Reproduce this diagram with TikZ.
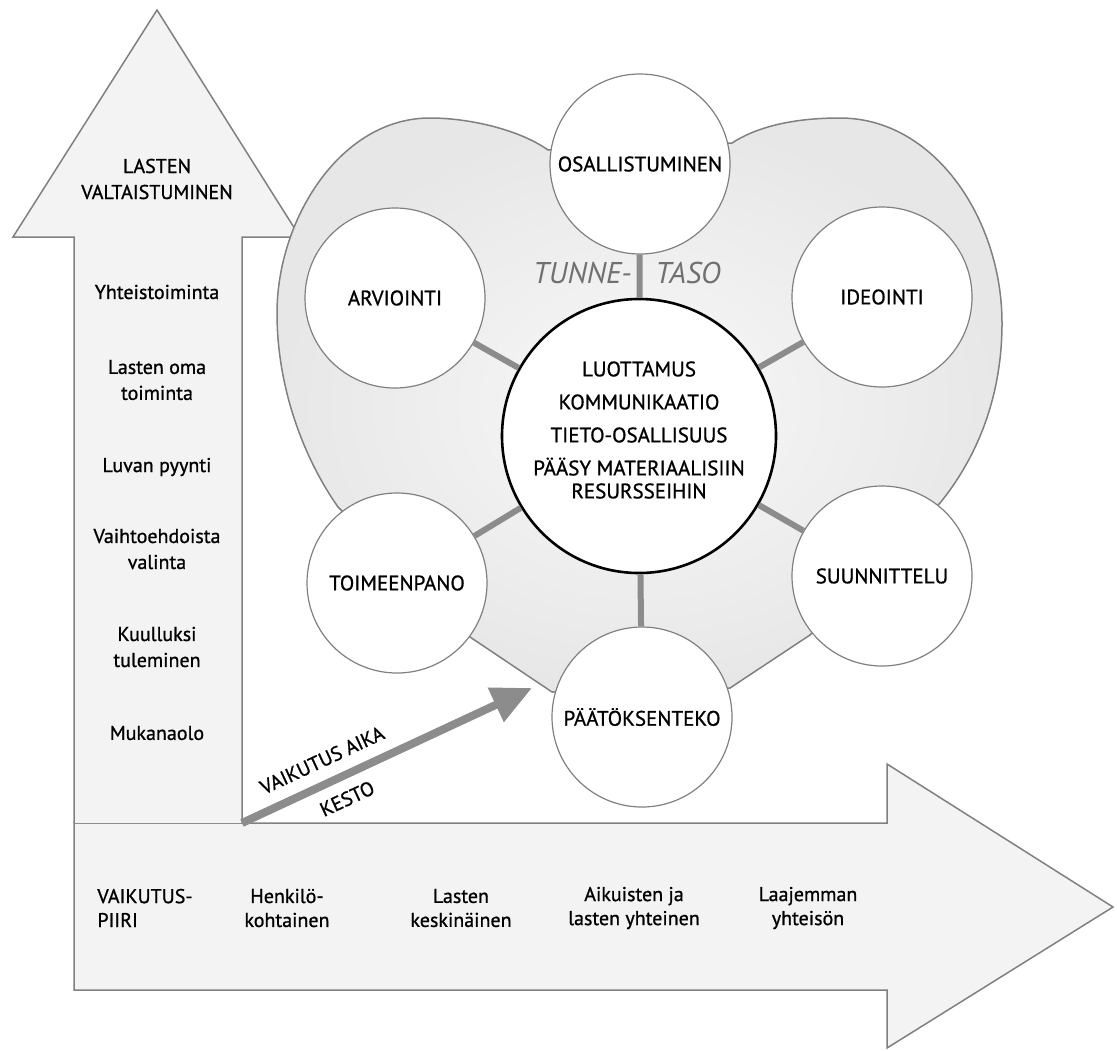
\documentclass[tikz,border=0pt]{standalone}
\usepackage{fontspec}
\setmainfont{PT Sans}[FakeBold=0.9]
\newfontfamily\tunnefont{PT Sans}
\usetikzlibrary{arrows.meta}
\definecolor{arrowfill}{HTML}{F3F3F3}
\definecolor{edge}{HTML}{808080}
\definecolor{linkc}{HTML}{8C8C8C}
\definecolor{heartin}{HTML}{F8F8F8}
\definecolor{heartout}{HTML}{E7E7E7}
\definecolor{tunnec}{HTML}{707070}
\begin{document}
\begin{tikzpicture}[x=0.5pt,y=-0.5pt,
  outer/.style={circle,draw=edge,fill=white,line width=0.6pt,minimum size=90pt,inner sep=0pt,
    font=\fontsize{10.5}{12}\selectfont},
  core/.style={circle,draw=black,fill=white,line width=1.3pt,minimum size=137pt,inner sep=0pt},
  link/.style={draw=linkc,line width=3pt},
  bigarrow/.style={fill=arrowfill,draw=edge,line width=0.75pt,line join=miter},
  lbl/.style={align=center,inner sep=0pt,font=\fontsize{10}{13}\selectfont},
  botlbl/.style={align=center,inner sep=0pt,font=\fontsize{10}{12}\selectfont},
  tunnelbl/.style={inner sep=0pt,text=tunnec,font=\tunnefont\fontsize{15}{15}\selectfont\itshape},
  diaglbl/.style={inner sep=0pt,sloped,font=\fontsize{10}{10}\selectfont}
]
\useasboundingbox (0,0) rectangle (1117,1050);

% horizontal arrow
\draw[bigarrow] (74,823) -- (887,823) -- (887,764) -- (1113,907) -- (887,1048)
  -- (887,990) -- (74,990) -- cycle;
% vertical arrow
\draw[bigarrow] (74,823) -- (74,237) -- (13,237) -- (157,10) -- (300,237)
  -- (242,237) -- (242,823);

% heart
\shadedraw[draw=edge,line width=0.75pt,inner color=heartin,outer color=heartout]
  (548,150) .. controls (520,130) and (470,118) .. (430,118)
  .. controls (340,118) and (277,220) .. (277,313)
  .. controls (277,390) and (305,460) .. (338,507)
  -- (470,637) -- (552,692) -- (730,688) -- (810,635) -- (940,503)
  .. controls (975,460) and (1002,400) .. (1002,323)
  .. controls (1002,220) and (935,118) .. (840,118)
  .. controls (790,118) and (755,128) .. (732,143) -- cycle;

% circles
\node[outer] (osal) at (640,164) {OSALLISTUMINEN};
\node[outer] (arv)  at (395,298) {ARVIOINTI};
\node[outer] (ide)  at (882,297) {IDEOINTI};
\node[outer] (toim) at (397,583) {TOIMEENPANO};
\node[outer] (suun) at (882,576) {SUUNNITTELU};
\node[outer] (paat) at (642,717) {PÄÄTÖKSENTEKO};
\node[core]  (core) at (639,436) {};
\node[align=center,inner sep=0pt,font=\fontsize{10.5}{16.5}\selectfont] (coretext) at (639,430)
  {LUOTTAMUS\\KOMMUNIKAATIO\\TIETO-OSALLISUUS\\PÄÄSY MATERIAALISIIN\\[-5pt]RESURSSEIHIN};

% connectors
\draw[link] (core) -- (osal);
\draw[link] (core) -- (arv);
\draw[link] (core) -- (ide);
\draw[link] (core) -- (toim);
\draw[link] (core) -- (suun);
\draw[link] (core) -- (paat);

% tunne-taso
\node[tunnelbl,anchor=east] (tunne) at (632,273) {TUNNE-};
\node[tunnelbl,anchor=west] (taso) at (655,273) {TASO};

% vertical arrow texts
\node[lbl] (valta) at (157,179) {LASTEN\\VALTAISTUMINEN};
\node[lbl] (v1) at (157,292) {Yhteistoiminta};
\node[lbl] (v2) at (157,380) {Lasten oma\\toiminta};
\node[lbl] (v3) at (157,467) {Luvan pyynti};
\node[lbl] (v4) at (157,549) {Vaihtoehdoista\\valinta};
\node[lbl] (v5) at (157,647) {Kuulluksi\\tuleminen};
\node[lbl] (v6) at (157,733) {Mukanaolo};

% horizontal arrow texts
\node[botlbl,align=left,anchor=west] (piiri) at (97,908) {VAIKUTUS-\\PIIRI};
\node[botlbl] (h1) at (287,908) {Henkilö-\\kohtainen};
\node[botlbl] (h2) at (461,908) {Lasten\\keskinäinen};
\node[botlbl] (h3) at (634,908) {Aikuisten ja\\lasten yhteinen};
\node[botlbl] (h4) at (808,908) {Laajemman\\yhteisön};

% diagonal arrow
\coordinate (corner) at (242,823);
\coordinate (atip) at (532,688);
\draw[draw=linkc,line width=4pt,-{Triangle[length=20pt,width=18pt]}] (corner) -- (atip)
  node[diaglbl,pos=0.31,above=6pt] (vaika) {VAIKUTUS AIKA}
  node[diaglbl,pos=0.33,below=5.5pt] (kesto) {KESTO};
\end{tikzpicture}
\end{document}
